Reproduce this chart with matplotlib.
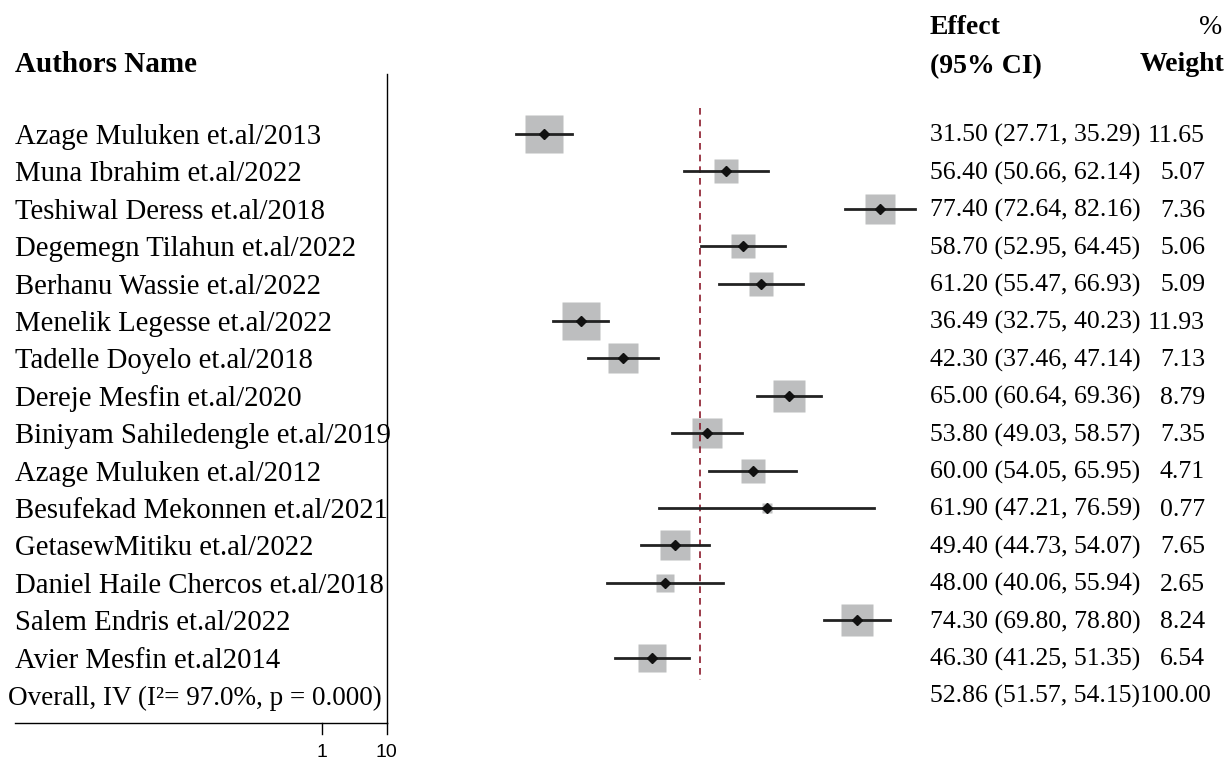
import numpy as np
import matplotlib
matplotlib.use("Agg")
import matplotlib.pyplot as plt

authors = ["Azage Muluken et.al/2013", "Muna Ibrahim et.al/2022", "Teshiwal Deress et.al/2018",
           "Degemegn Tilahun et.al/2022", "Berhanu Wassie et.al/2022", "Menelik Legesse et.al/2022",
           "Tadelle Doyelo et.al/2018", "Dereje Mesfin et.al/2020", "Biniyam Sahiledengle et.al/2019",
           "Azage Muluken et.al/2012", "Besufekad Mekonnen et.al/2021", "GetasewMitiku et.al/2022",
           "Daniel Haile Chercos et.al/2018", "Salem Endris et.al/2022", "Avier Mesfin et.al2014"]
effect = [31.50, 56.40, 77.40, 58.70, 61.20, 36.49, 42.30, 65.00, 53.80, 60.00, 61.90, 49.40, 48.00, 74.30, 46.30]
lower = [27.71, 50.66, 72.64, 52.95, 55.47, 32.75, 37.46, 60.64, 49.03, 54.05, 47.21, 44.73, 40.06, 69.80, 41.25]
upper = [35.29, 62.14, 82.16, 64.45, 66.93, 40.23, 47.14, 69.36, 58.57, 65.95, 76.59, 54.07, 55.94, 78.80, 51.35]
weight = [11.65, 5.07, 7.36, 5.06, 5.09, 11.93, 7.13, 8.79, 7.35, 4.71, 0.77, 7.65, 2.65, 8.24, 6.54]
overall = (52.86, 51.57, 54.15, 100.00)
overall_label = "Overall, IV (I\u00b2= 97.0%, p = 0.000)"

serif = "Liberation Serif"
fig = plt.figure(figsize=(12.24, 7.6), dpi=100)
ax = fig.add_axes([0, 0, 1, 1])
# 7.32 px per unit, effect 31.5 at px 544; row 0 at px 134, 37.4 px per row
sc = 7.32
ax.set_xlim(31.5 - 544 / sc, 31.5 + (1224 - 544) / sc)
ax.set_ylim(16.738, -3.583)
ax.axis("off")

def px(p):
    return 31.5 + (p - 544) / sc

n = len(authors)
rows = np.arange(n)
for i in rows:
    side = 11 * np.sqrt(weight[i]) * 0.72
    ax.plot(effect[i], i, marker="s", ms=side, color="#bdbebf", mec="none", zorder=2)
    ax.plot([lower[i], upper[i]], [i, i], color="#222222", lw=2, zorder=3)
    ax.plot(effect[i], i, marker="D", ms=5, color="#111111", zorder=4)
    ax.text(px(15), i + 0.08, authors[i], family=serif, fontsize=20.7, va="center")
    ax.text(px(930), i + 0.05, f"{effect[i]:.2f} ({lower[i]:.2f}, {upper[i]:.2f})",
            family=serif, fontsize=18.5, va="center")
    ax.text(px(1205), i + 0.05, f"{weight[i]:.2f}", family=serif, fontsize=18.5, va="center", ha="right")

ax.text(px(8), n + 0.08, overall_label, family=serif, fontsize=19.5, va="center")
ax.text(px(930), n + 0.05, f"{overall[0]:.2f} ({overall[1]:.2f}, {overall[2]:.2f}){overall[3]:.2f}",
        family=serif, fontsize=18.5, va="center")

# reference line at overall effect
ax.plot([overall[0], overall[0]], [-0.7, n - 0.4], color="#8b1a2b", lw=1.2, ls=(0, (4, 3)))

# axes
y_axis = n + 0.75
ax.plot([10, 10], [-1.6, y_axis], color="black", lw=1)
ax.plot([px(15), 10], [y_axis, y_axis], color="black", lw=1)
for t in [1, 10]:
    ax.plot([px(322) if t == 1 else 10] * 2, [y_axis, y_axis + 0.3], color="black", lw=1)
    ax.text(px(322) if t == 1 else 10, y_axis + 0.8, str(t), fontsize=14,
            family="Liberation Sans", ha="center", va="center")

# headers
ax.text(px(15), -1.85, "Authors Name", family=serif, fontsize=21, fontweight="bold", va="center")
ax.text(px(930), -2.85, "Effect", family=serif, fontsize=20, fontweight="bold", va="center")
ax.text(px(930), -1.8, "(95% CI)", family=serif, fontsize=20, fontweight="bold", va="center")
ax.text(px(1222), -2.85, "%", family=serif, fontsize=20, va="center", ha="right")
ax.text(px(1224), -1.85, "Weight", family=serif, fontsize=20, fontweight="bold", va="center", ha="right")

fig.savefig("out.png", dpi=100)
